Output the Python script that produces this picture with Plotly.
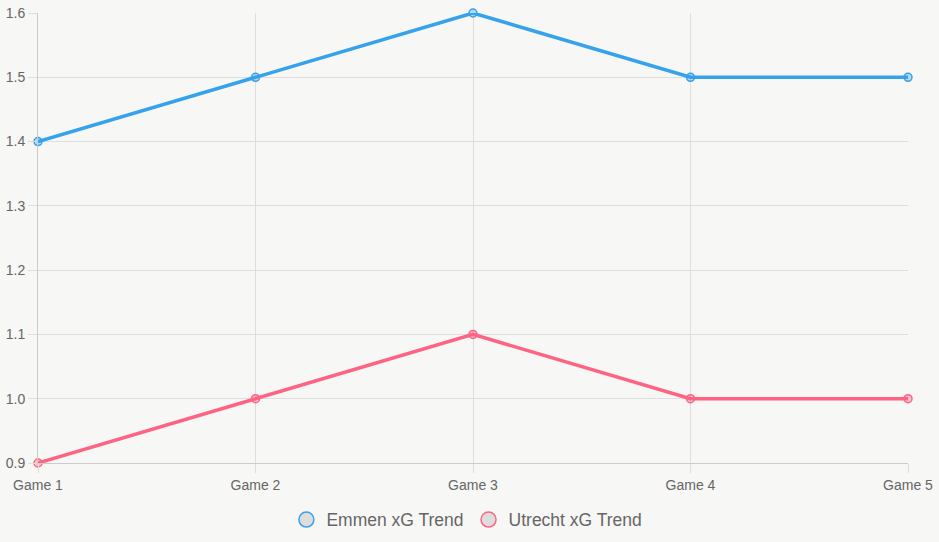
import plotly.graph_objects as go

games = ["Game 1", "Game 2", "Game 3", "Game 4", "Game 5"]
emmen = [1.4, 1.5, 1.6, 1.5, 1.5]
utrecht = [0.9, 1.0, 1.1, 1.0, 1.0]
y_ticks = [0.9, 1.0, 1.1, 1.2, 1.3, 1.4, 1.5, 1.6]

series = [
    ("Emmen xG Trend", emmen, "#36A2EB", "rgba(54,162,235,0.35)"),
    ("Utrecht xG Trend", utrecht, "#FF6384", "rgba(255,99,132,0.35)"),
]

fig = go.Figure()
for name, vals, col, fill in series:
    fig.add_trace(go.Scatter(
        x=games, y=vals, mode="lines+markers", name=name, showlegend=False,
        line=dict(color=col, width=3.5),
        marker=dict(size=8, color=fill, line=dict(color=col, width=1.5)),
        cliponaxis=False,
    ))
for name, vals, col, fill in series:
    fig.add_trace(go.Scatter(
        x=[None], y=[None], mode="markers", name=name,
        marker=dict(size=15, color="#dddddd", line=dict(color=col, width=1.5)),
    ))

bg = "#f7f7f5"
grid = "#dedede"
fig.update_layout(
    width=939, height=542,
    paper_bgcolor=bg, plot_bgcolor=bg,
    margin=dict(l=38, r=31, t=13, b=79, autoexpand=False),
    font=dict(family="Liberation Sans, Arial, sans-serif", color="#666666", size=14),
    legend=dict(orientation="h", x=0.493, xanchor="center", y=-0.086, yanchor="top",
                font=dict(size=17.5, color="#666666"), itemwidth=30, bgcolor="rgba(0,0,0,0)"),
    xaxis=dict(
        type="category", range=[0, 4], showgrid=True, gridcolor=grid, gridwidth=1,
        ticks="outside", ticklen=9, tickcolor=grid, showline=True, linecolor="#cccccc",
        zeroline=False, tickfont=dict(size=14), automargin=False,
    ),
    yaxis=dict(
        range=[0.9, 1.6], tickvals=y_ticks, tickformat=".1f", showgrid=True,
        gridcolor=grid, gridwidth=1, ticks="outside", ticklen=9, tickcolor=grid,
        showline=True, linecolor="#cccccc", zeroline=False, tickfont=dict(size=14),
        automargin=False,
    ),
)

fig.write_html("out.html")
